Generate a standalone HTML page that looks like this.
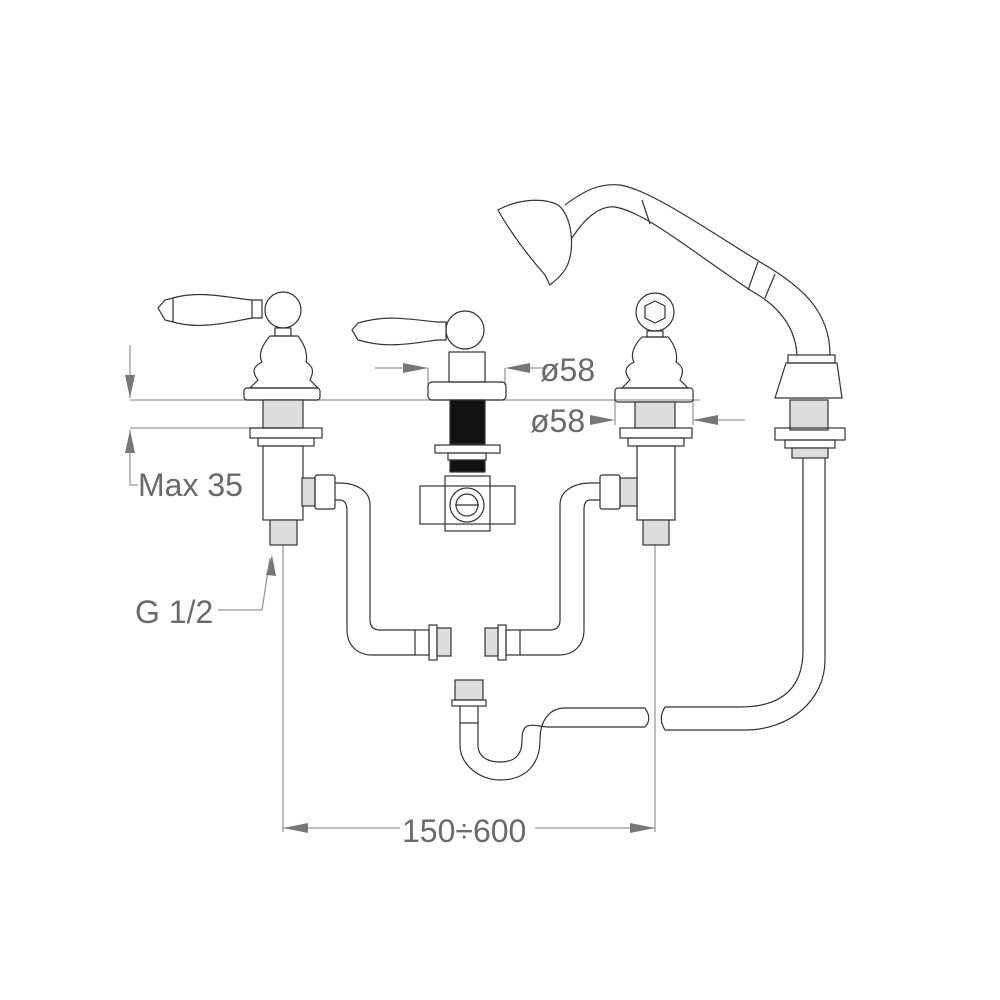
<!DOCTYPE html>
<html><head><style>body{margin:0;background:#fff}svg{display:block}text{font-family:"Liberation Sans",sans-serif;fill:#6a6a6a;font-size:32px}</style></head>
<body>
<svg width="1000" height="1000" viewBox="0 0 1000 1000" xmlns="http://www.w3.org/2000/svg">
<g fill="none" stroke="#999" stroke-width="1.3">
<line x1="130" y1="400" x2="700" y2="400"/>
<line x1="130" y1="428" x2="300" y2="428"/>
<line x1="130" y1="345" x2="130" y2="398"/>
<polyline points="130,430 130,485 138,485"/>
<line x1="283" y1="545" x2="283" y2="832"/>
<line x1="655" y1="545" x2="655" y2="832"/>
<line x1="283" y1="828" x2="400" y2="828"/>
<line x1="535" y1="828" x2="655" y2="828"/>
<polyline points="218,610 262,610 270,558"/>
<line x1="375" y1="368" x2="428" y2="368"/>
<line x1="508" y1="368" x2="548" y2="368"/>
<line x1="693" y1="420" x2="745" y2="420"/>
<line x1="428" y1="368" x2="428" y2="385"/>
<line x1="505" y1="368" x2="505" y2="385"/>
<line x1="615" y1="400" x2="615" y2="425"/>
<line x1="693" y1="400" x2="693" y2="425"/>
</g>
<g fill="#777">
<polygon points="130,398 125,375 135,375"/>
<polygon points="130,430 125,453 135,453"/>
<polygon points="428,368 403,363 403,373"/>
<polygon points="505,368 530,363 530,373"/>
<polygon points="615,420 590,415 590,425"/>
<polygon points="693,420 718,415 718,425"/>
<polygon points="283,828 308,823 308,833"/>
<polygon points="655,828 630,823 630,833"/>
<polygon points="272,555 266,575 276,576"/>
</g>
<text x="138" y="496">Max 35</text>
<text x="135" y="623">G 1/2</text>
<text x="540" y="381">ø58</text>
<text x="530" y="432">ø58</text>
<text x="402" y="842">150÷600</text>

<g fill="none" stroke="#333" stroke-width="1.2">
<path d="M158,308 L165,300 L173,298 C200,290 230,298 252,300 L262,300 L262,318 L252,318 C230,322 200,330 173,322 L165,320 Z"/>
<line x1="173" y1="298" x2="173" y2="322"/><line x1="252" y1="300" x2="252" y2="318"/>
<circle cx="283" cy="310" r="18"/>
<rect x="275" y="328" width="16" height="8"/>
<path d="M270,336 L298,336 C305,345 308,355 306,362 C316,368 312,375 310,380 L318,388 L250,388 L258,380 C254,375 250,368 262,362 C258,355 262,345 270,336Z"/>
<rect x="244" y="388" width="76" height="12" rx="3"/>
<rect x="263" y="400" width="40" height="28" fill="#ddd"/>
<rect x="250" y="428" width="72" height="10"/>
<rect x="258" y="438" width="56" height="8"/>
<rect x="263" y="446" width="40" height="74"/>
<rect x="302" y="478" width="13" height="28" fill="#ddd"/>
<rect x="315" y="475" width="20" height="34" rx="2"/>
<rect x="270" y="520" width="27" height="25" fill="#ddd"/>
<path d="M335,483 L340,483 C355,483 370,490 370,505 L370,620 C370,628 375,630 380,630 L415,630 M335,500 L340,500 C345,500 347,505 347,510 L347,630 C347,645 357,655 372,655 L415,655"/>
<rect x="415" y="630" width="14" height="25"/>
<rect x="429" y="625" width="8" height="35"/>
<rect x="437" y="628" width="14" height="28" fill="#ddd"/>
<path d="M352,330 L358,323 L366,321 C390,315 415,320 437,322 L446,322 L446,340 L437,340 C415,343 390,348 366,342 L358,340Z"/>
<circle cx="465" cy="330" r="19"/>
<rect x="449" y="352" width="36" height="30"/>
<rect x="428" y="382" width="78" height="18" rx="4"/>
<rect x="450" y="400" width="35" height="44" fill="#111"/>
<rect x="435" y="445" width="65" height="8"/>
<rect x="448" y="453" width="38" height="7"/>
<rect x="450" y="460" width="35" height="12" fill="#111"/>
<rect x="420" y="486" width="95" height="38"/>
<rect x="445" y="476" width="45" height="55"/>
<circle cx="467" cy="505" r="17"/><circle cx="467" cy="505" r="11"/>
<line x1="455" y1="505" x2="479" y2="505"/>
<circle cx="655" cy="312" r="19"/>
<polygon points="655,301 665,306 665,318 655,323 645,318 645,306"/>
<rect x="647" y="331" width="16" height="6"/>
<path d="M642,337 L668,337 C675,345 678,355 676,362 C686,368 682,375 680,380 L688,388 L622,388 L630,380 C626,375 622,368 634,362 C630,355 634,345 642,337Z"/>
<rect x="615" y="388" width="78" height="14" rx="3"/>
<rect x="635" y="402" width="40" height="26" fill="#ddd"/>
<rect x="620" y="428" width="72" height="10"/>
<rect x="628" y="438" width="56" height="8"/>
<rect x="637" y="446" width="38" height="74"/>
<rect x="620" y="478" width="17" height="28" fill="#ddd"/>
<rect x="600" y="475" width="20" height="34" rx="2"/>
<rect x="643" y="520" width="26" height="25" fill="#ddd"/>
<path d="M600,483 L590,483 C575,483 560,490 560,505 L560,620 C560,628 555,630 550,630 L520,630 M600,500 L590,500 C585,500 584,505 584,510 L584,630 C584,645 574,655 559,655 L520,655"/>
<rect x="506" y="630" width="14" height="25"/>
<rect x="498" y="625" width="8" height="35"/>
<rect x="485" y="628" width="13" height="28" fill="#ddd"/>
<!-- hand shower -->
<path d="M498,210 C520,198 545,198 558,205 C572,215 576,250 566,268 C562,275 556,280 550,285 L545,275 C530,258 510,232 498,210Z"/>
<path d="M565,205 C585,190 600,183 620,185 C650,190 700,225 760,262 C800,285 830,310 830,355 M572,238 C585,218 600,205 615,207 C645,212 690,250 750,290 C772,302 795,322 797,355"/>
<line x1="642" y1="200" x2="650" y2="224"/>
<line x1="758" y1="262" x2="748" y2="290"/>
<line x1="775" y1="274" x2="765" y2="298"/>
<rect x="788" y="355" width="47" height="8"/>
<polygon points="786,363 837,363 842,398 775,398"/>
<rect x="790" y="400" width="38" height="30" fill="#ddd"/>
<rect x="775" y="428" width="70" height="12"/>
<rect x="785" y="440" width="50" height="8"/>
<rect x="792" y="448" width="36" height="10" fill="#ddd"/>
<path d="M803,458 L803,650 C803,690 780,707 740,707 L665,707 M825,458 L825,660 C825,700 790,730 745,730 L665,730"/>
<path d="M665,707 C660,715 660,722 665,730"/>
<rect x="455" y="680" width="28" height="20" fill="#ddd"/>
<rect x="452" y="700" width="34" height="6"/>
<path d="M460,706 L460,745 C460,765 480,780 500,780 C525,780 540,765 540,740 C540,720 550,708 565,708 L645,708 M478,706 L478,745 C478,757 488,762 500,762 C515,762 522,755 522,740 C522,718 535,727 550,727 L645,727"/>
<line x1="460" y1="723" x2="478" y2="723"/>
<path d="M645,708 C650,715 650,722 645,727"/>
</g>
</svg>
</body></html>
